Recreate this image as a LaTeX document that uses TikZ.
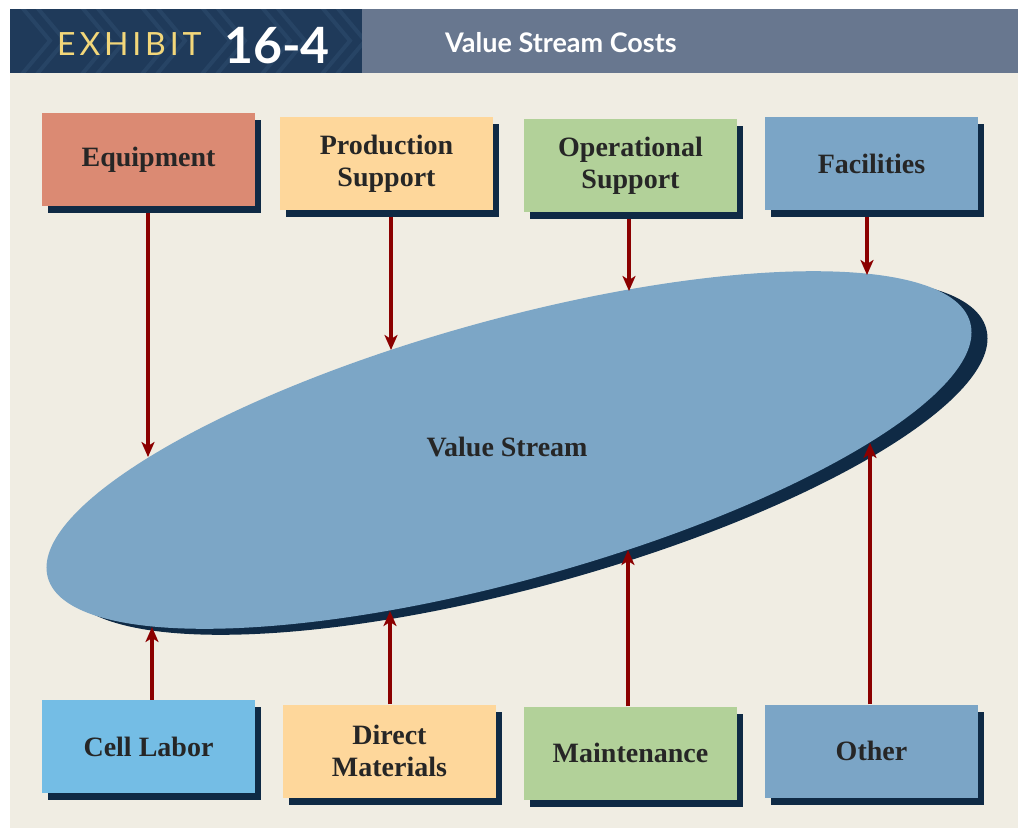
\documentclass[tikz,border=0pt]{standalone}
\usepackage{fontspec}
\setmainfont{Liberation Serif}
\newfontfamily\headfont{Lato}
\newfontfamily\exhibitfont[LetterSpace=12]{Lato}
\usetikzlibrary{arrows.meta,shadows}

\definecolor{navy}{HTML}{0F2A45}
\definecolor{beige}{HTML}{F0EDE3}
\definecolor{headnavy}{HTML}{1F3A5A}
\definecolor{keyblue}{HTML}{274465}
\definecolor{headgray}{HTML}{68778F}
\definecolor{exhibityellow}{HTML}{F3D77A}
\definecolor{salmon}{HTML}{DB8A73}
\definecolor{peach}{HTML}{FED79B}
\definecolor{sage}{HTML}{B2D199}
\definecolor{steel}{HTML}{7BA5C6}
\definecolor{sky}{HTML}{74BDE5}
\definecolor{streamblue}{HTML}{7CA6C6}
\definecolor{arrowred}{HTML}{8B0000}
\definecolor{textgray}{HTML}{262626}

\tikzset{
	cost/.style={rectangle, minimum width=213pt, minimum height=93pt, inner sep=0pt, align=center,
		font=\fontsize{28}{32}\selectfont\bfseries, text=textgray,
		drop shadow={shadow xshift=6pt, shadow yshift=-7pt, fill=navy, opacity=1}},
	feed/.style={->, line width=3.5pt, draw=arrowred},
	headtext/.style={anchor=base west, inner sep=0pt, text=white}
}

\begin{document}
\begin{tikzpicture}[x=1pt, y=-1pt, >={Stealth[length=15pt,width=13pt,inset=4pt]}]
			\useasboundingbox (0,0) rectangle (1018,828);
			\fill[white] (0,0) rectangle (1018,828);
			\fill[beige] (10,72) rectangle (1018,828);
			
			\fill[headnavy] (10,9) rectangle (362,72.5);
			\begin{scope}
				\clip (10,9) rectangle (362,72.5);
				\foreach \x in {-40,20,...,380} {
					\draw[keyblue, line width=4pt] (\x,5) -- (\x+30,40.75) -- (\x,76.5);
					\draw[keyblue, line width=4pt] (\x+15,5) -- (\x+45,40.75) -- (\x+15,76.5);
				}
			\end{scope}
			\fill[headgray] (362,9) rectangle (1018,72.5);
			\node[headtext, text=exhibityellow, font=\exhibitfont\fontsize{32}{32}\selectfont] (exh) at (57,55) {EXHIBIT};
			\node[headtext, font=\headfont\bfseries\fontsize{50}{50}\selectfont] (num) at (224,63) {16-4};
			\node[headtext, font=\headfont\bfseries\fontsize{27}{27}\selectfont] (ttl) at (445,52) {Value Stream Costs};
			
			\fill[navy, rotate around={15.45:(525,456)}] (525,456) ellipse [x radius=478.5, y radius=130.1];
			\fill[streamblue, rotate around={15.45:(509,450)}] (509,450) ellipse [x radius=478.5, y radius=130.1];
			\node[font=\fontsize{28}{32}\selectfont\bfseries, text=textgray] (vs) at (507,447) {Value Stream};
			
			\node[cost, fill=salmon] (equip) at (148.5,159.5) {Equipment};
			\node[cost, fill=peach] (prod) at (386.5,163.5) {Production\\Support};
			\node[cost, fill=sage] (oper) at (630.5,165.5) {Operational\\Support};
			\node[cost, fill=steel] (facil) at (871.5,163.5) {Facilities};
			\node[cost, fill=sky] (labor) at (148.5,746.5) {Cell Labor};
			\node[cost, fill=peach] (mater) at (389.5,751) {Direct\\Materials};
			\node[cost, fill=sage] (maint) at (630.5,753) {Maintenance};
			\node[cost, fill=steel] (other) at (871.5,751) {Other};
			
			\coordinate (e1) at (148,457);
			\coordinate (e2) at (391,350);
			\coordinate (e3) at (629,291);
			\coordinate (e4) at (867,275);
			\coordinate (e5) at (152,627);
			\coordinate (e6) at (390,611);
			\coordinate (e7) at (628,550);
			\coordinate (e8) at (870,443);
			
			\draw[feed, shorten <=7pt] (equip.south -| e1) -- (e1);
			\draw[feed, shorten <=7pt] (prod.south -| e2) -- (e2);
			\draw[feed, shorten <=7pt] (oper.south -| e3) -- (e3);
			\draw[feed, shorten <=7pt] (facil.south -| e4) -- (e4);
			\draw[feed] (labor.north -| e5) -- (e5);
			\draw[feed] (mater.north -| e6) -- (e6);
			\draw[feed] (maint.north -| e7) -- (e7);
			\draw[feed] (other.north -| e8) -- (e8);
		\end{tikzpicture}
\end{document}
